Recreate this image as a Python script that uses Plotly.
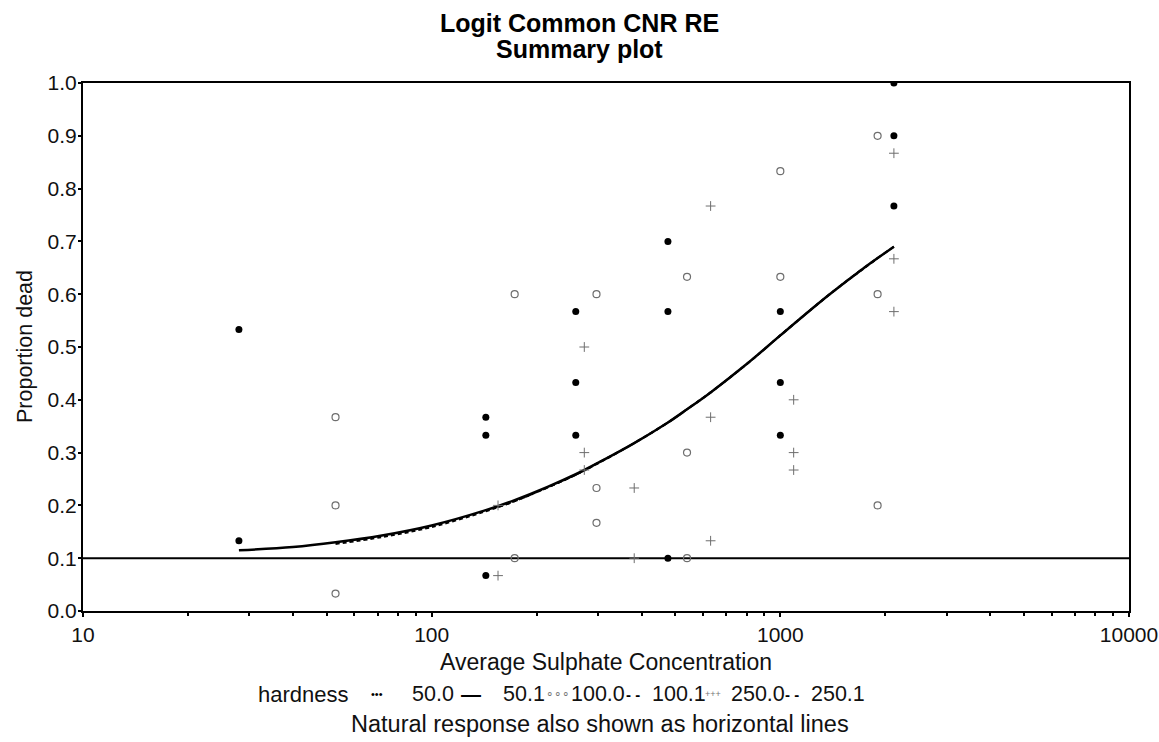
import plotly.graph_objects as go

# ---------------- data ----------------
# hardness 50.0 (filled dots)
h50_x = [28, 28, 143, 143, 143, 259, 259, 259, 476, 476, 476, 1000, 1000, 1000, 2117, 2117, 2117]
h50_y = [0.533, 0.133, 0.367, 0.333, 0.067, 0.567, 0.433, 0.333, 0.700, 0.567, 0.100,
         0.567, 0.433, 0.333, 1.000, 0.900, 0.767]
# hardness 100.0 (open circles)
h100_x = [53, 53, 53, 173, 173, 297, 297, 297, 540, 540, 540, 1000, 1000, 1901, 1901, 1901]
h100_y = [0.367, 0.200, 0.033, 0.600, 0.100, 0.600, 0.233, 0.167, 0.633, 0.300, 0.100,
          0.833, 0.633, 0.900, 0.600, 0.200]
# hardness 250.0 (plus)
h250_x = [155, 155, 274, 274, 274, 381, 381, 631, 631, 631, 1092, 1092, 1092, 2117, 2117, 2117]
h250_y = [0.200, 0.067, 0.500, 0.300, 0.267, 0.233, 0.100, 0.767, 0.367, 0.133, 0.400,
          0.300, 0.267, 0.867, 0.667, 0.567]

# fitted curves
fit501_x = [28, 40, 53, 72, 100, 143, 173, 215, 259, 297, 381, 476, 540, 631, 809, 1000, 1374, 1714, 2117]
fit501_y = [0.115, 0.121, 0.130, 0.143, 0.162, 0.191, 0.210, 0.235, 0.259, 0.279, 0.318, 0.357,
            0.382, 0.414, 0.470, 0.522, 0.598, 0.647, 0.690]
fit1001_x = [53, 72, 100, 143, 173, 215, 259, 297, 381, 476, 540, 631, 809, 1000, 1374, 1901]
fit1001_y = [0.127, 0.140, 0.159, 0.189, 0.208, 0.234, 0.258, 0.278, 0.318, 0.357, 0.382,
             0.414, 0.470, 0.522, 0.598, 0.668]
fit2501_x = [155, 173, 215, 259, 297, 381, 476, 540, 631, 809, 1000, 1374, 1714, 2117]
fit2501_y = [0.197, 0.208, 0.234, 0.258, 0.279, 0.318, 0.357, 0.382, 0.414, 0.470, 0.522,
             0.598, 0.647, 0.690]

natural_response = 0.1
x_span = [10, 10000]

x_ticks = [10, 100, 1000, 10000]
x_ticktext = ["10", "100", "1000", "10000"]
x_minor = [m * d for d in (10, 100, 1000) for m in range(2, 10)]

legend_title = "hardness"
legend_labels = ["50.0", "50.1", "100.0", "100.1", "250.0", "250.1"]

FONT = "Arial, Liberation Sans, Helvetica, sans-serif"

# ---------------- figure ----------------
fig = go.Figure()

fig.add_trace(go.Scatter(x=x_span, y=[natural_response] * 2, mode="lines",
                         line=dict(color="black", width=2), showlegend=False, hoverinfo="skip"))

fig.add_trace(go.Scatter(x=fit1001_x, y=fit1001_y, mode="lines", line_shape="spline",
                         line=dict(color="black", width=2, dash="4px,3px"), showlegend=False))
fig.add_trace(go.Scatter(x=fit2501_x, y=fit2501_y, mode="lines", line_shape="spline",
                         line=dict(color="black", width=2, dash="5px,3px"), showlegend=False))
fig.add_trace(go.Scatter(x=fit501_x, y=fit501_y, mode="lines", line_shape="spline",
                         line=dict(color="black", width=2.5), showlegend=False))

fig.add_trace(go.Scatter(x=h50_x, y=h50_y, mode="markers",
                         marker=dict(symbol="circle", size=7, color="black"), showlegend=False))
fig.add_trace(go.Scatter(x=h100_x, y=h100_y, mode="markers",
                         marker=dict(symbol="circle-open", size=7, color="#6e6e6e",
                                     line=dict(width=1.2)), showlegend=False))
fig.add_trace(go.Scatter(x=h250_x, y=h250_y, mode="markers",
                         marker=dict(symbol="cross-thin-open", size=7, color="#6e6e6e",
                                     line=dict(width=1)), showlegend=False))

W, H = 1159, 742
L, R, T, B = 83, 1129, 83, 611
pw, ph = R - L, B - T


def px(xp):
    return (xp - L) / pw


def py(yp):
    return (B - yp) / ph


ann = []
# titles
for txt, yy in (("<b>Logit Common CNR RE</b>", 23), ("<b>Summary plot</b>", 49)):
    ann.append(dict(text=txt, x=px(579), y=py(yy), xref="paper", yref="paper",
                    showarrow=False, font=dict(size=25, family=FONT, color="black"),
                    xanchor="center", yanchor="middle"))
# axis titles
ann.append(dict(text="Average Sulphate Concentration", x=px(606), y=py(662), xref="paper", yref="paper",
                showarrow=False, font=dict(size=23, family=FONT, color="#111"),
                xanchor="center", yanchor="middle"))
ann.append(dict(text="Proportion dead", x=px(25), y=py(347), xref="paper", yref="paper",
                showarrow=False, textangle=-90, font=dict(size=21.5, family=FONT, color="#111"),
                xanchor="center", yanchor="middle"))
ann.append(dict(text="Natural response also shown as horizontal lines", x=px(600), y=py(724),
                xref="paper", yref="paper", showarrow=False,
                font=dict(size=23.5, family=FONT, color="#111"), xanchor="center", yanchor="middle"))

# legend row
ly = py(694)
ann.append(dict(text=legend_title, x=px(256), y=ly, xref="paper", yref="paper", showarrow=False,
                font=dict(size=22, family=FONT, color="#111"), xanchor="left", yanchor="middle"))
sym = [("•••", 11, "black", 377), ("<b>—</b>", 20, "black", 471), ("∘∘∘", 12, "#777", 558),
       ("<b>- -</b>", 15, "black", 633), ("+++", 9, "#777", 713), ("<b>- -</b>", 15, "black", 792)]
lab_x = [410, 501, 569, 650, 729, 809]
for (s, sz, col, cx), lab, lx in zip(sym, legend_labels, lab_x):
    ann.append(dict(text=s, x=px(cx), y=ly, xref="paper", yref="paper", showarrow=False,
                    font=dict(size=sz, family=FONT, color=col), xanchor="center", yanchor="middle"))
    ann.append(dict(text=lab, x=px(lx), y=ly, xref="paper", yref="paper", showarrow=False,
                    font=dict(size=21.5, family=FONT, color="#111"), xanchor="left", yanchor="middle"))

fig.update_layout(
    width=W, height=H,
    margin=dict(l=L, r=W - R, t=T, b=H - B, autoexpand=False),
    paper_bgcolor="white", plot_bgcolor="white",
    showlegend=False,
    annotations=ann,
    font=dict(family=FONT, size=21, color="#111"),
)
fig.update_xaxes(type="log", range=[1, 4], tickmode="array", tickvals=x_ticks, ticktext=x_ticktext,
                 automargin=False,
                 showgrid=False, zeroline=False, showline=True, linecolor="black", linewidth=2,
                 mirror=True, ticks="outside", ticklen=4, tickwidth=1.5, tickcolor="black",
                 tickfont=dict(size=21, family=FONT, color="#111"),
                 minor=dict(tickmode="array", tickvals=x_minor, ticks="outside", ticklen=3,
                            tickwidth=1.5, tickcolor="black", showgrid=False))
fig.update_yaxes(range=[0, 1.0], dtick=0.1, tick0=0, tickformat=".1f", automargin=False,
                 showgrid=False, zeroline=False, showline=True, linecolor="black", linewidth=2,
                 mirror=True, ticks="outside", ticklen=3, tickwidth=1.5, tickcolor="black",
                 ticklabelstandoff=-3,
                 tickfont=dict(size=21, family=FONT, color="#111"))

fig.write_html("out.html")
